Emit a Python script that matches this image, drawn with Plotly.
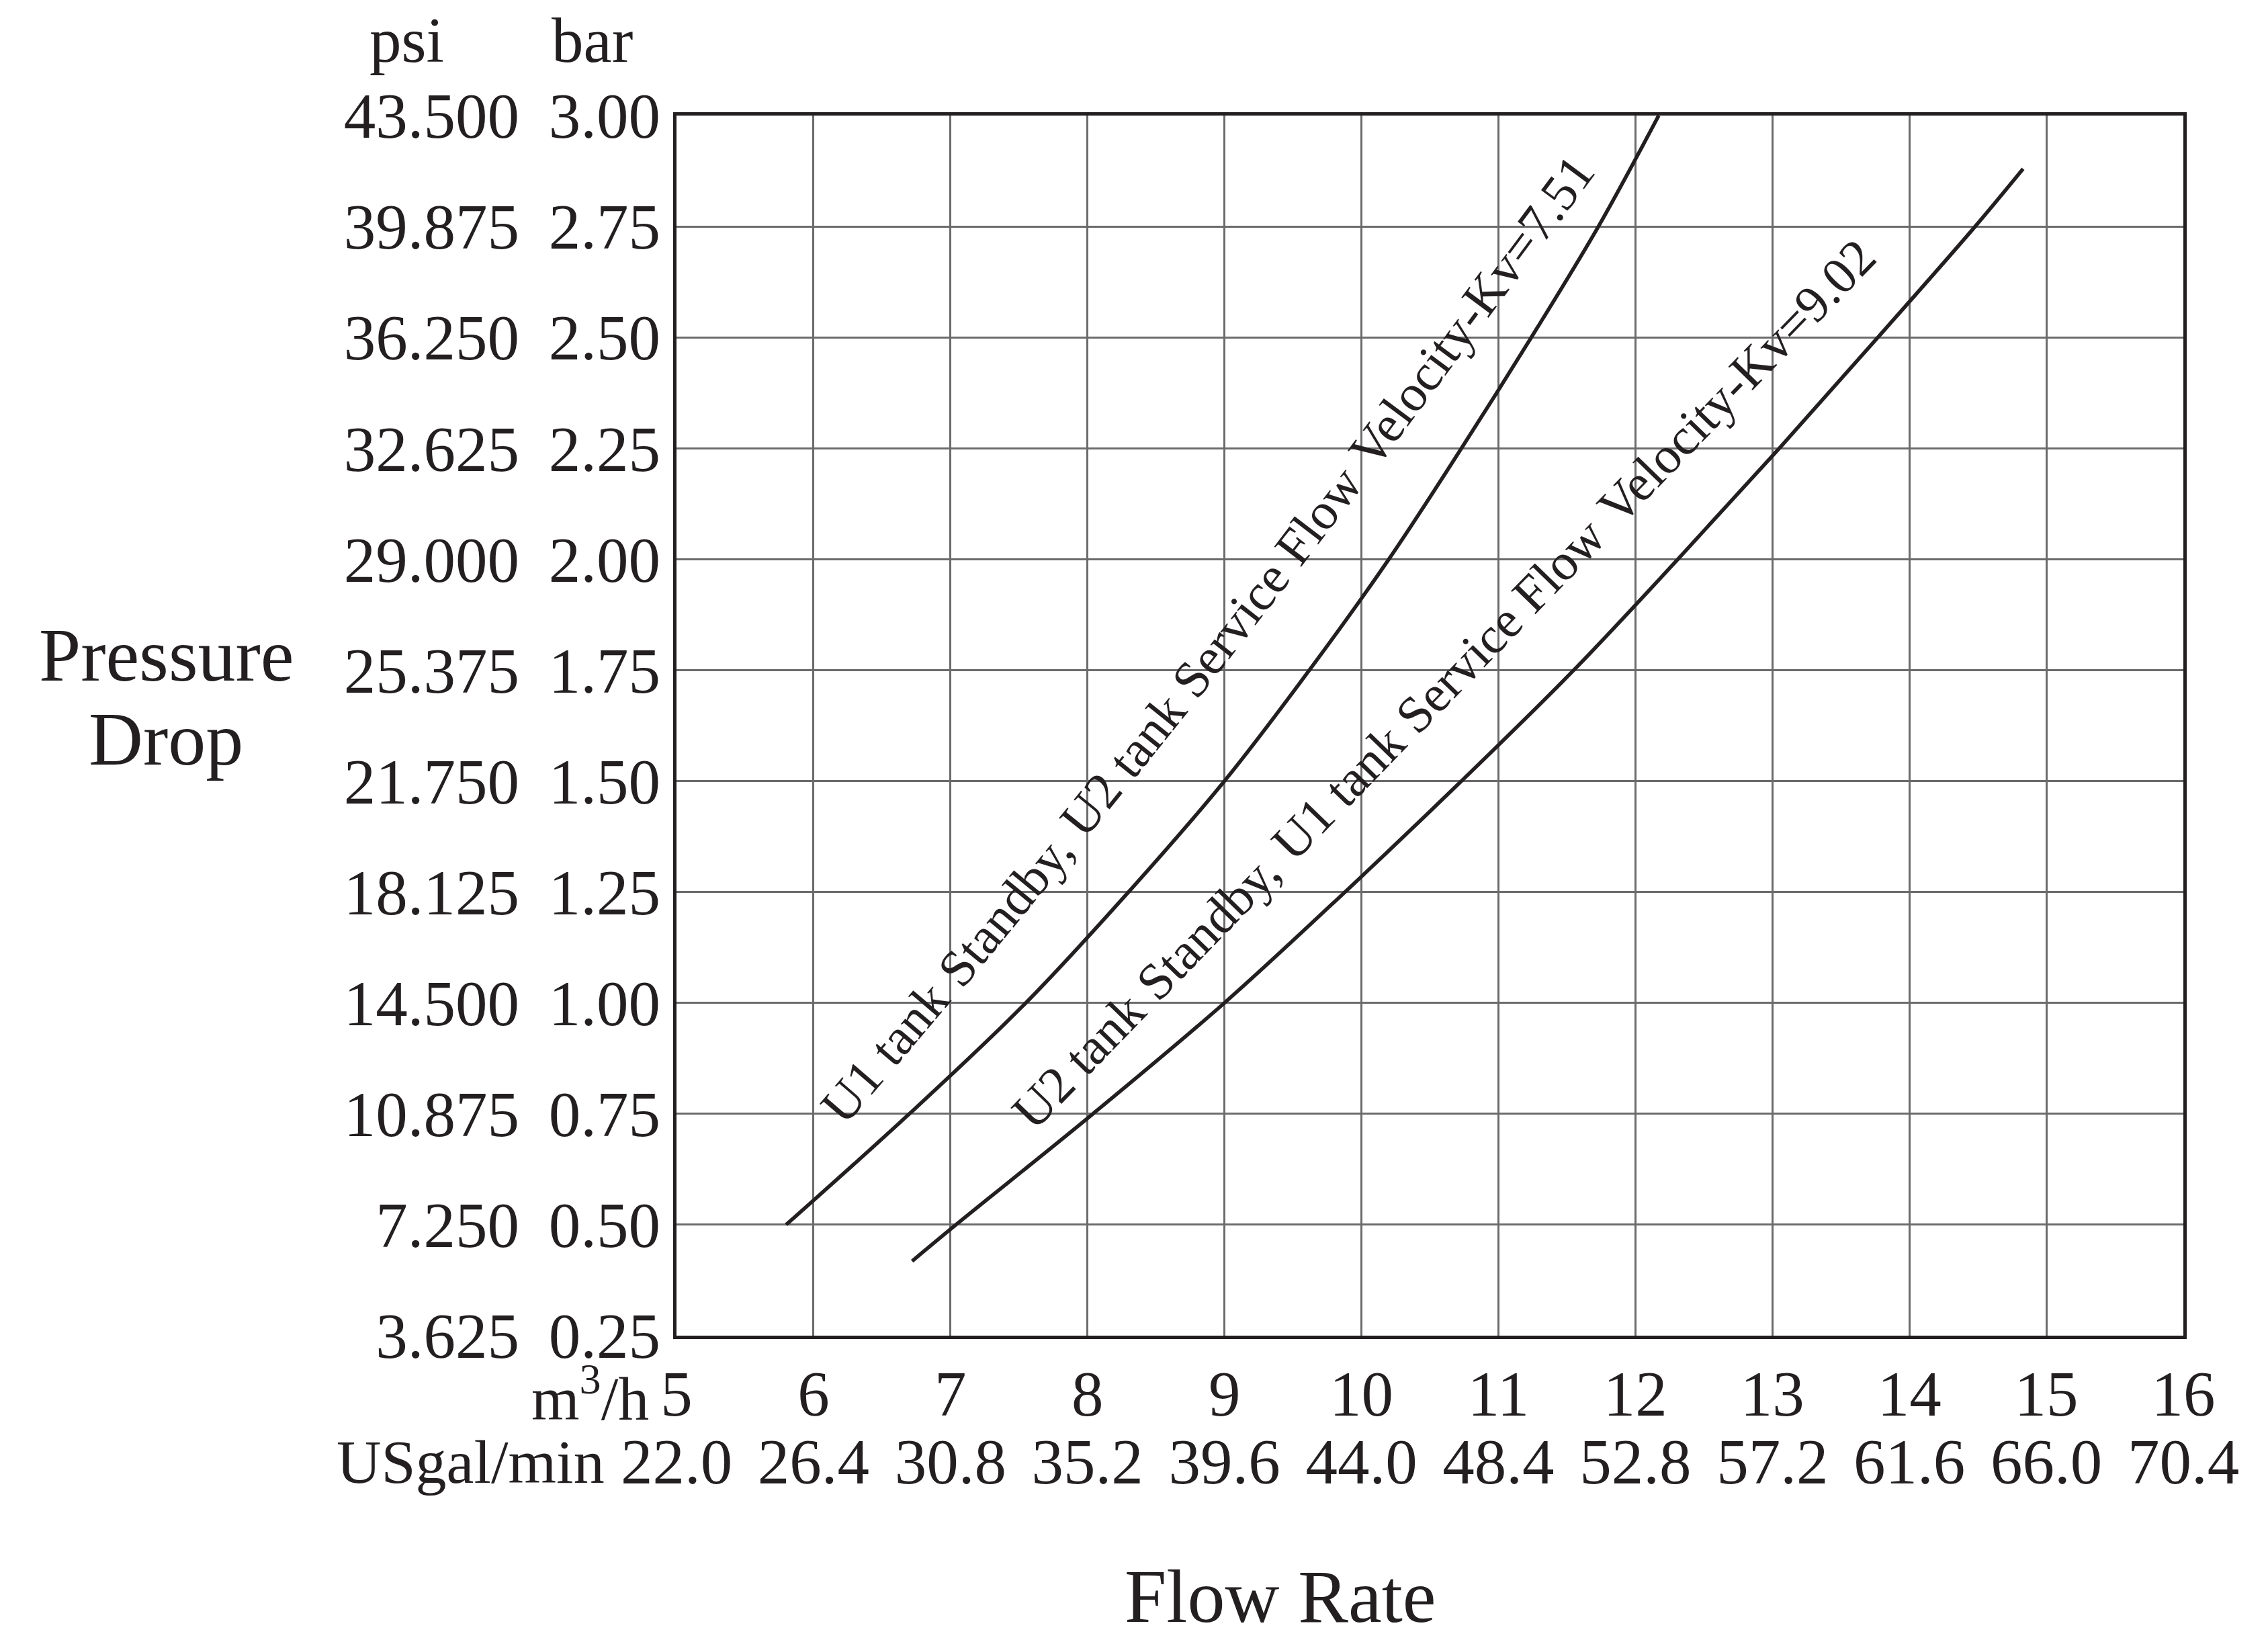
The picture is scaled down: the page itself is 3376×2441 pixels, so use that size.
import numpy as np
import plotly.graph_objects as go

# Pressure drop (bar) against flow (m3/h)
FLOW_KV751 = [5.80, 6.70, 7.55, 8.30, 9.00, 9.62, 10.20, 10.73, 11.24, 11.73, 12.17]
DROP_KV751 = [0.50, 0.75, 1.00, 1.25, 1.50, 1.75, 2.00, 2.25, 2.50, 2.75, 3.00]

FLOW_KV902 = [6.72, 7.04, 8.04, 9.00, 9.88, 10.73, 11.55, 12.31, 13.05, 13.77, 14.48, 14.83]
DROP_KV902 = [0.418, 0.50, 0.75, 1.00, 1.25, 1.50, 1.75, 2.00, 2.25, 2.50, 2.75, 2.88]

LABEL_KV751 = "U1 tank Standby, U2 tank Service Flow Velocity-Kv=7.51"
LABEL_KV902 = "U2 tank Standby, U1 tank Service Flow Velocity-Kv=9.02"

FLOW_TICKS = [5, 6, 7, 8, 9, 10, 11, 12, 13, 14, 15, 16]
GPM_TICKS = [22.0, 26.4, 30.8, 35.2, 39.6, 44.0, 48.4, 52.8, 57.2, 61.6, 66.0, 70.4]
BAR_TICKS = [0.25, 0.50, 0.75, 1.00, 1.25, 1.50, 1.75, 2.00, 2.25, 2.50, 2.75, 3.00]
PSI_TICKS = [3.625, 7.250, 10.875, 14.500, 18.125, 21.750, 25.375, 29.000, 32.625, 36.250, 39.875, 43.500]

# geometry, in page pixels (the page body adds an 8px margin round the figure)
PAD = 8
W, H = 3376 - PAD, 2441 - PAD
PLOT_L, PLOT_R, PLOT_T, PLOT_B = 1007, 3250, 172, 1988
M_L = 500
M_R = W + PAD - PLOT_R
M_T = PLOT_T - PAD
M_B = H + PAD - PLOT_B

INK = "#231f20"
GRID = "#6b6b6b"
FONT = "Liberation Serif, Times New Roman, serif"
TICK_SIZE = 95
UNIT_SIZE = 92
LABEL_SIZE = 77

plot_w = W - M_L - M_R
plot_h = H - M_T - M_B
x_lo, x_hi = FLOW_TICKS[0], FLOW_TICKS[-1]
y_lo, y_hi = BAR_TICKS[0], BAR_TICKS[-1]


def paper_x(px):
    return (px - PAD - M_L) / plot_w


def paper_y(py):
    return (H - M_B - (py - PAD)) / plot_h


def to_px(x, y):
    px = PLOT_L + (np.asarray(x) - x_lo) / (x_hi - x_lo) * (PLOT_R - PLOT_L)
    py = PLOT_T + (y_hi - np.asarray(y)) / (y_hi - y_lo) * (PLOT_B - PLOT_T)
    return px, py


def to_data(px, py):
    x = x_lo + (px - PLOT_L) / (PLOT_R - PLOT_L) * (x_hi - x_lo)
    y = y_hi - (py - PLOT_T) / (PLOT_B - PLOT_T) * (y_hi - y_lo)
    return float(x), float(y)


# Times advance widths, per 1000 em
GLYPH_W = {" ": 250, ",": 250, "-": 333, ".": 250, "=": 564, "F": 556, "K": 722,
           "S": 556, "U": 722, "V": 722, "a": 444, "b": 500, "c": 444, "d": 500,
           "e": 444, "i": 278, "k": 500, "l": 278, "n": 500, "o": 500, "r": 333,
           "t": 278, "v": 500, "w": 722, "y": 500}


def text_w(s, size):
    return sum(GLYPH_W.get(c, 500) for c in s) / 1000 * size


def smooth_dir(ax, ay, win=41):
    gx, gy = np.gradient(ax), np.gradient(ay)
    k = np.ones(win) / win
    h = win // 2
    gx = np.convolve(np.pad(gx, h, mode="edge"), k, mode="valid")
    gy = np.convolve(np.pad(gy, h, mode="edge"), k, mode="valid")
    n = np.hypot(gx, gy)
    return gx / n, gy / n


def curve_label(text, xs, ys, x0, x1, d0, d1, bend, size):
    """Words of a label laid beside a curve (upper-left side), partly straightened."""
    u = np.linspace(x0, x1, 600)
    px, py = to_px(u, np.interp(u, xs, ys))
    tx, ty = smooth_dir(px, py)
    d = np.linspace(d0, d1, u.size)
    ox, oy = px + d * ty, py - d * tx
    # pull the offset path towards its chord
    cl = np.hypot(ox[-1] - ox[0], oy[-1] - oy[0])
    ex, ey = (ox[-1] - ox[0]) / cl, (oy[-1] - oy[0]) / cl
    rx, ry = ox - ox[0], oy - oy[0]
    along = rx * ex + ry * ey
    perp = -rx * ey + ry * ex
    bx = ox[0] + along * ex - bend * perp * ey
    by = oy[0] + along * ey + bend * perp * ex
    btx, bty = smooth_dir(bx, by)
    s = np.concatenate([[0.0], np.cumsum(np.hypot(np.diff(bx), np.diff(by)))])
    pos = 0.0
    anns = []
    for word in text.split(" "):
        w = text_w(word, size)
        sc = pos + w / 2
        cx, cy = np.interp(sc, s, bx), np.interp(sc, s, by)
        ang = np.degrees(np.arctan2(-np.interp(sc, s, bty), np.interp(sc, s, btx)))
        xd, yd = to_data(cx, cy)
        anns.append(dict(x=xd, y=yd, xref="x", yref="y", text=word, textangle=-ang,
                         showarrow=False, xanchor="center", yanchor="middle",
                         font=dict(size=size, color=INK, family=FONT)))
        pos += w + text_w(" ", size)
    return anns


fig = go.Figure()

for fx, fy in [(FLOW_KV751, DROP_KV751), (FLOW_KV902, DROP_KV902)]:
    fig.add_trace(go.Scatter(
        x=fx, y=fy, mode="lines",
        line=dict(color=INK, width=5.5, shape="spline", smoothing=1.0),
        hoverinfo="skip", showlegend=False,
    ))

# carries the secondary unit axes (USgal/min, psi)
fig.add_trace(go.Scatter(x=[], y=[], xaxis="x2", yaxis="y2", showlegend=False))

tick_font = dict(size=TICK_SIZE, color=INK, family=FONT)
axis_common = dict(
    showgrid=True, gridcolor=GRID, gridwidth=2.5,
    showline=True, linecolor=INK, linewidth=5, mirror=True,
    ticks="", zeroline=False, automargin=False, tickfont=tick_font,
)

annotations = []
annotations += curve_label(LABEL_KV751, FLOW_KV751, DROP_KV751, 6.38, 12.0, 76, 63, 0.25, LABEL_SIZE)
annotations += curve_label(LABEL_KV902, FLOW_KV902, DROP_KV902, 7.70, 14.1, 60, 100, 0.0, LABEL_SIZE)


def page_text(text, px, py, size, xanchor="center"):
    return dict(x=paper_x(px), y=paper_y(py), xref="paper", yref="paper", text=text,
                showarrow=False, xanchor=xanchor, yanchor="middle",
                font=dict(size=size, color=INK, family=FONT))


annotations += [
    page_text("psi", 605, 60, TICK_SIZE),
    page_text("bar", 881, 60, TICK_SIZE),
    page_text("m<sup>3</sup>/h", 968, 2075, UNIT_SIZE, "right"),
    page_text("USgal/min", 902, 2176, UNIT_SIZE, "right"),
    page_text("Pressure", 247, 975, 112),
    page_text("Drop", 247, 1100, 112),
    page_text("Flow Rate", 1906, 2376, 112),
]

fig.update_layout(
    width=W, height=H,
    template="none",
    paper_bgcolor="white", plot_bgcolor="white",
    margin=dict(l=M_L, r=M_R, t=M_T, b=M_B, pad=0),
    font=dict(family=FONT, color=INK),
    showlegend=False,
    xaxis=dict(axis_common, range=[x_lo, x_hi], domain=[paper_x(PLOT_L), 1],
               tickvals=FLOW_TICKS, ticktext=[str(v) for v in FLOW_TICKS],
               ticklabelstandoff=0),
    yaxis=dict(axis_common, range=[y_lo, y_hi],
               tickvals=BAR_TICKS, ticktext=[f"{v:.2f}" for v in BAR_TICKS],
               ticklabelstandoff=0),
    xaxis2=dict(overlaying="x", anchor="free", position=0, side="bottom",
                range=[GPM_TICKS[0], GPM_TICKS[-1]],
                tickvals=GPM_TICKS, ticktext=[f"{v:.1f}" for v in GPM_TICKS],
                showgrid=False, showline=False, zeroline=False, ticks="",
                automargin=False, ticklabelstandoff=124, tickfont=tick_font),
    yaxis2=dict(overlaying="y", anchor="free", position=paper_x(773), side="left",
                range=[PSI_TICKS[0], PSI_TICKS[-1]],
                tickvals=PSI_TICKS, ticktext=[f"{v:.3f}" for v in PSI_TICKS],
                showgrid=False, showline=False, zeroline=False, ticks="",
                automargin=False, ticklabelstandoff=0, tickfont=tick_font),
    annotations=annotations,
)

fig.write_html("out.html")
